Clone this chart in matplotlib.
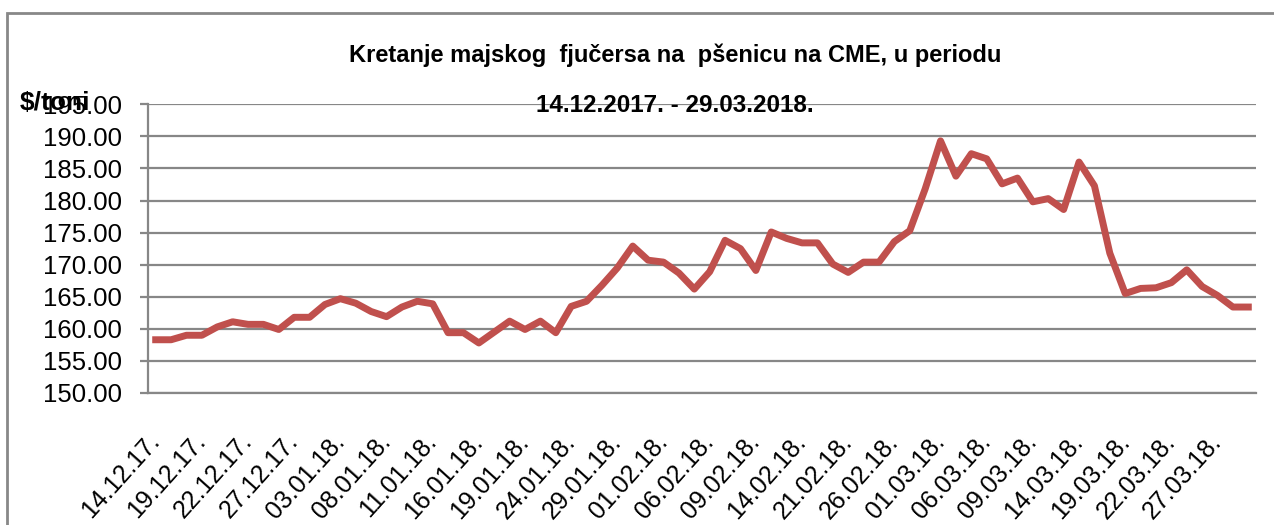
import matplotlib
matplotlib.use('Agg')
import matplotlib.pyplot as plt
from matplotlib.patches import Rectangle

#trading dates (category axis), every third one gets a label
dates = ['14.12.17.', '15.12.17.', '18.12.17.', '19.12.17.', '20.12.17.', '21.12.17.',
         '22.12.17.', '25.12.17.', '26.12.17.', '27.12.17.', '28.12.17.', '02.01.18.',
         '03.01.18.', '04.01.18.', '05.01.18.', '08.01.18.', '09.01.18.', '10.01.18.',
         '11.01.18.', '12.01.18.', '15.01.18.', '16.01.18.', '17.01.18.', '18.01.18.',
         '19.01.18.', '22.01.18.', '23.01.18.', '24.01.18.', '25.01.18.', '26.01.18.',
         '29.01.18.', '30.01.18.', '31.01.18.', '01.02.18.', '02.02.18.', '05.02.18.',
         '06.02.18.', '07.02.18.', '08.02.18.', '09.02.18.', '12.02.18.', '13.02.18.',
         '14.02.18.', '15.02.18.', '16.02.18.', '21.02.18.', '22.02.18.', '23.02.18.',
         '26.02.18.', '27.02.18.', '28.02.18.', '01.03.18.', '02.03.18.', '05.03.18.',
         '06.03.18.', '07.03.18.', '08.03.18.', '09.03.18.', '12.03.18.', '13.03.18.',
         '14.03.18.', '15.03.18.', '16.03.18.', '19.03.18.', '20.03.18.', '21.03.18.',
         '22.03.18.', '23.03.18.', '26.03.18.', '27.03.18.', '28.03.18.', '29.03.18.']

#May wheat futures price, $/t
price = [158.3, 158.3, 159.0, 159.0, 160.3, 161.1, 160.7, 160.7, 159.9, 161.8,
         161.8, 163.8, 164.7, 164.0, 162.7, 161.9, 163.4, 164.3, 163.9, 159.4,
         159.4, 157.8, 159.5, 161.2, 159.9, 161.2, 159.4, 163.5, 164.3, 166.8,
         169.5, 172.9, 170.7, 170.4, 168.7, 166.2, 168.9, 173.8, 172.5, 169.1,
         175.1, 174.1, 173.4, 173.4, 170.1, 168.8, 170.4, 170.4, 173.6, 175.3,
         181.8, 189.3, 183.8, 187.3, 186.5, 182.6, 183.5, 179.8, 180.3, 178.6,
         186.0, 182.3, 171.8, 165.5, 166.3, 166.4, 167.2, 169.2, 166.6, 165.2,
         163.4, 163.4]

yticks = [150, 155, 160, 165, 170, 175, 180, 185, 190, 195]

plt.rcParams['font.family'] = ['Liberation Sans', 'DejaVu Sans']

W, H = 1274, 525
fig = plt.figure(figsize=(W / 100, H / 100), dpi=100)
ax = fig.add_axes([148 / W, 1 - 393 / H, (1256 - 148) / W, (393 - 104.3) / H])

x = list(range(len(dates)))
ax.plot(x, price, color='#C0504D', lw=5, solid_joinstyle='round', zorder=3)

ax.set_xlim(-0.5, len(dates) - 0.5)
ax.set_ylim(150, 195)
ax.set_yticks(yticks)
ax.set_yticklabels(['%.2f' % v for v in yticks], fontsize=18.5)
ax.yaxis.grid(True, color='#878787', lw=1.6)
ax.set_axisbelow(True)
ax.tick_params(axis='y', length=6, width=1.6, color='#878787', pad=13)

ax.set_xticks(x[::3])
ax.set_xticklabels(dates[::3], fontsize=18, rotation=48, ha='right', va='center',
                   rotation_mode='anchor')
ax.tick_params(axis='x', length=0, pad=32)

for s in ['top', 'right']:
    ax.spines[s].set_visible(False)
ax.spines['left'].set_color('#878787')
ax.spines['left'].set_linewidth(1.6)
ax.spines['bottom'].set_color('#878787')
ax.spines['bottom'].set_linewidth(1.6)

#titles and unit label
fig.text(675 / W, 1 - 62 / H, 'Kretanje majskog  fjučersa na  pšenicu na CME, u periodu',
         ha='center', va='baseline', fontsize=17, fontweight='bold')
fig.text(675 / W, 1 - 112 / H, '14.12.2017. - 29.03.2018.',
         ha='center', va='baseline', fontsize=17.5, fontweight='bold')
fig.text(20 / W, 1 - 110 / H, '$/toni', ha='left', va='baseline', fontsize=19,
         fontweight='bold')

#chart frame, cut off at right and bottom
fig.patches.append(Rectangle((7 / W, -0.1), 1.1, 1 - 13 / H + 0.1, transform=fig.transFigure,
                             fill=False, edgecolor='#888888', lw=2))

fig.savefig('out.png', dpi=100)
